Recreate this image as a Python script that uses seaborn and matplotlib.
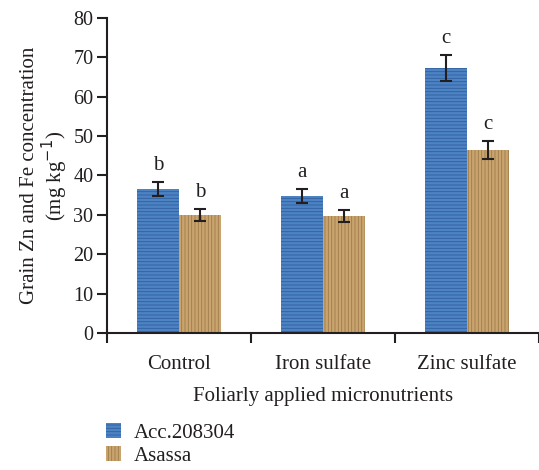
import numpy as np
import pandas as pd
import seaborn as sns
import matplotlib.pyplot as plt
from matplotlib.patches import Patch

# Data
treatments = ['Control', 'Iron sulfate', 'Zinc sulfate']
genotypes = ['Acc.208304', 'Asassa']
acc_mean = [36.5, 34.8, 67.3]
asassa_mean = [29.9, 29.7, 46.4]
acc_err = [1.8, 1.8, 3.4]
asassa_err = [1.5, 1.5, 2.3]
acc_letters = ['b', 'a', 'c']
asassa_letters = ['b', 'a', 'c']

df = pd.DataFrame({
    'treatment': treatments * 2,
    'genotype': [genotypes[0]] * 3 + [genotypes[1]] * 3,
    'value': acc_mean + asassa_mean,
})
errs = acc_err + asassa_err
letters = acc_letters + asassa_letters

sns.set_style('white')
plt.rcParams['font.family'] = ['Liberation Serif', 'DejaVu Serif']
plt.rcParams['hatch.linewidth'] = 0.6

ink = '#231f20'
colors = ['#4d82c3', '#c9a46e']
hatch_colors = ['#2f5f9e', '#9c7a48']

fig = plt.figure(figsize=(5.39, 4.7), dpi=100)
ax = fig.add_axes([0.199, 0.2915, 0.801, 0.6702])

sns.barplot(data=df, x='treatment', y='value', hue='genotype', order=treatments,
            hue_order=genotypes, palette=colors, width=0.58, saturation=1,
            errorbar=None, legend=False, ax=ax)

# texture + error bars + letters
bars = [p for p in ax.patches if p.get_height() > 0]
bars = sorted(bars, key=lambda p: (p.get_facecolor() != bars[0].get_facecolor(), p.get_x()))
for i, p in enumerate(bars):
    g = 0 if i < 3 else 1
    p.set_hatch('-----' if g == 0 else '|||||')
    p.set_edgecolor(hatch_colors[g])
    p.set_linewidth(0)
    cx = p.get_x() + p.get_width() / 2
    h = p.get_height()
    ax.errorbar(cx, h, yerr=errs[i], fmt='none', ecolor=ink, elinewidth=1.5,
                capsize=4.3, capthick=1.5, zorder=5)
    ax.text(cx, h + errs[i] + 1.8, letters[i], ha='center', va='bottom',
            fontsize=15, color=ink)

ax.set_xlim(-0.5, 2.5)
ax.set_ylim(0, 80)
ax.set_yticks(range(0, 81, 10))
ax.set_xticks(range(3))
ax.set_xticks([-0.5, 0.5, 1.5, 2.5], minor=True)
ax.tick_params(axis='x', which='major', bottom=True, length=0, pad=16,
               labelsize=15, colors=ink)
ax.tick_params(axis='x', which='minor', bottom=True, length=7, width=1.5,
               direction='out', color=ink)
ax.tick_params(axis='y', left=True, length=7, width=1.5, direction='out',
               labelsize=14.5, colors=ink, pad=3)
for s in ['top', 'right']:
    ax.spines[s].set_visible(False)
for s in ['left', 'bottom']:
    ax.spines[s].set_linewidth(1.5)
    ax.spines[s].set_color(ink)

ax.set_xlabel('Foliarly applied micronutrients', fontsize=15, color=ink, labelpad=9)
ax.set_ylabel('Grain Zn and Fe concentration\n(mg kg$^{-1}$)', fontsize=15,
              color=ink, labelpad=2, linespacing=1.05)

handles = [Patch(facecolor=colors[k], edgecolor=hatch_colors[k],
                 hatch='-----' if k == 0 else '|||||', linewidth=0)
           for k in range(2)]
fig.legend(handles, genotypes, loc='upper left', bbox_to_anchor=(0.192, 0.104),
           frameon=False, fontsize=15, handlelength=0.75, handleheight=0.75,
           labelspacing=0.15, handletextpad=0.6, labelcolor=ink,
           borderaxespad=0, borderpad=0.1)

fig.savefig('out.png', dpi=100)
